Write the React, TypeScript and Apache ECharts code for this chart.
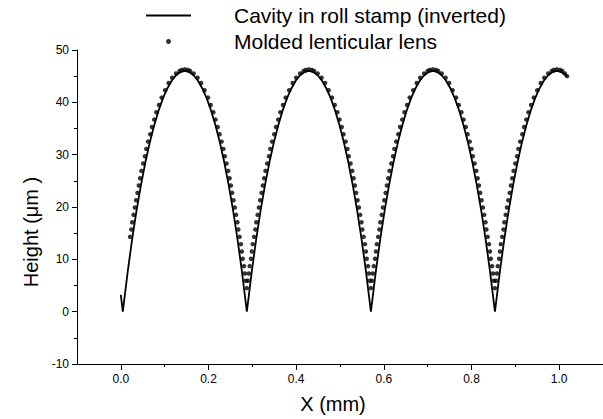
import React, { useEffect, useRef } from "react";
import * as echarts from "echarts";

const FONT = "'Liberation Sans', Arial, sans-serif";

const xMajorTicks = [0, 0.2, 0.4, 0.6, 0.8, 1.0];
const xMinorTicks = [0.1, 0.3, 0.5, 0.7, 0.9];

const seriesNames = ["Cavity in roll stamp (inverted)", "Molded lenticular lens"];

// Cavity profile (solid line)
const cavityX = [
  0.000, 0.0045,
  0.016, 0.026, 0.036, 0.046, 0.056, 0.066, 0.076, 0.086, 0.096, 0.106, 0.116, 0.126, 0.136, 0.146,
  0.156, 0.166, 0.176, 0.186, 0.196, 0.206, 0.216, 0.226, 0.236, 0.246, 0.256, 0.266, 0.276, 0.2875,
  0.299, 0.309, 0.319, 0.329, 0.339, 0.349, 0.359, 0.369, 0.379, 0.389, 0.399, 0.409, 0.419, 0.429,
  0.439, 0.449, 0.459, 0.469, 0.479, 0.489, 0.499, 0.509, 0.519, 0.529, 0.539, 0.549, 0.559, 0.5705,
  0.582, 0.592, 0.602, 0.612, 0.622, 0.632, 0.642, 0.652, 0.662, 0.672, 0.682, 0.692, 0.702, 0.712,
  0.722, 0.732, 0.742, 0.752, 0.762, 0.772, 0.782, 0.792, 0.802, 0.812, 0.822, 0.832, 0.842, 0.8535,
  0.865, 0.875, 0.885, 0.895, 0.905, 0.915, 0.925, 0.935, 0.945, 0.955, 0.965, 0.975, 0.985, 0.995,
  1.005, 1.015, 1.018,
];
const cavityY = [
  3.2, 0,
  7.86, 13.94, 19.39, 24.24, 28.54, 32.31, 35.59, 38.4, 40.75, 42.65, 44.12, 45.17, 45.79, 46.0,
  45.79, 45.17, 44.12, 42.65, 40.75, 38.4, 35.59, 32.31, 28.54, 24.24, 19.39, 13.94, 7.86, 0,
  7.86, 13.94, 19.39, 24.24, 28.54, 32.31, 35.59, 38.4, 40.75, 42.65, 44.12, 45.17, 45.79, 46.0,
  45.79, 45.17, 44.12, 42.65, 40.75, 38.4, 35.59, 32.31, 28.54, 24.24, 19.39, 13.94, 7.86, 0,
  7.86, 13.94, 19.39, 24.24, 28.54, 32.31, 35.59, 38.4, 40.75, 42.65, 44.12, 45.17, 45.79, 46.0,
  45.79, 45.17, 44.12, 42.65, 40.75, 38.4, 35.59, 32.31, 28.54, 24.24, 19.39, 13.94, 7.86, 0,
  7.86, 13.94, 19.39, 24.24, 28.54, 32.31, 35.59, 38.4, 40.75, 42.65, 44.12, 45.17, 45.79, 46.0,
  45.79, 45.17, 44.9,
];

// Molded lens profile (dots)
const lensX = [
  // arch 1 rising
  0.021, 0.024, 0.026, 0.029, 0.032, 0.035, 0.038, 0.041, 0.044, 0.047, 0.051, 0.055, 0.058, 0.062,
  0.067, 0.071, 0.076, 0.081, 0.087, 0.093, 0.101, 0.109, 0.117, 0.126, 0.134, 0.139, 0.146,
  // arch 1 falling
  0.153, 0.158, 0.166, 0.175, 0.183, 0.191, 0.199, 0.205, 0.211, 0.216, 0.221, 0.225, 0.230, 0.234,
  0.237, 0.241, 0.245, 0.248, 0.251, 0.254, 0.257, 0.260, 0.263, 0.266, 0.268, 0.271, 0.274, 0.276,
  0.278, 0.281, 0.283, 0.285, 0.2875,
  // arch 2 rising
  0.290, 0.292, 0.294, 0.297, 0.299, 0.301, 0.304, 0.307, 0.309, 0.312, 0.315, 0.318, 0.321, 0.324,
  0.327, 0.330, 0.334, 0.338, 0.341, 0.345, 0.350, 0.354, 0.359, 0.364, 0.370, 0.376, 0.384, 0.392,
  0.400, 0.409, 0.417, 0.422, 0.429,
  // arch 2 falling
  0.436, 0.441, 0.449, 0.458, 0.466, 0.474, 0.482, 0.488, 0.494, 0.499, 0.504, 0.508, 0.513, 0.517,
  0.520, 0.524, 0.528, 0.531, 0.534, 0.537, 0.540, 0.543, 0.546, 0.549, 0.551, 0.554, 0.557, 0.559,
  0.561, 0.564, 0.566, 0.568, 0.5705,
  // arch 3 rising
  0.573, 0.575, 0.577, 0.580, 0.582, 0.584, 0.587, 0.590, 0.592, 0.595, 0.598, 0.601, 0.604, 0.607,
  0.610, 0.613, 0.617, 0.621, 0.624, 0.628, 0.633, 0.637, 0.642, 0.647, 0.653, 0.659, 0.667, 0.675,
  0.683, 0.692, 0.700, 0.705, 0.712,
  // arch 3 falling
  0.719, 0.724, 0.732, 0.741, 0.749, 0.757, 0.765, 0.771, 0.777, 0.782, 0.787, 0.791, 0.796, 0.800,
  0.803, 0.807, 0.811, 0.814, 0.817, 0.820, 0.823, 0.826, 0.829, 0.832, 0.834, 0.837, 0.840, 0.842,
  0.844, 0.847, 0.849, 0.851, 0.8535,
  // arch 4 rising
  0.856, 0.858, 0.860, 0.863, 0.865, 0.867, 0.870, 0.873, 0.875, 0.878, 0.881, 0.884, 0.887, 0.890,
  0.893, 0.896, 0.900, 0.904, 0.907, 0.911, 0.916, 0.920, 0.925, 0.930, 0.936, 0.942, 0.950, 0.958,
  0.966, 0.975, 0.983, 0.988, 0.995,
  // arch 4 end
  1.002, 1.007, 1.013, 1.018,
];
const lensY = [
  14.3, 15.7, 17.1, 18.5, 19.9, 21.3, 22.7, 24.1, 25.5, 26.9, 28.3, 29.7, 31.1, 32.5,
  33.9, 35.3, 36.7, 38.1, 39.5, 40.9, 42.3, 43.7, 44.7, 45.5, 46.0, 46.2, 46.3,
  46.2, 46.0, 45.5, 44.7, 43.7, 42.3, 40.9, 39.5, 38.1, 36.7, 35.3, 33.9, 32.5, 31.1,
  29.7, 28.3, 26.9, 25.5, 24.1, 22.7, 21.3, 19.9, 18.5, 17.1, 15.7, 14.3, 12.9, 11.5,
  10.1, 8.7, 7.3, 5.9, 4.5,
  5.9, 7.3, 8.7, 10.1, 11.5, 12.9, 14.3, 15.7, 17.1, 18.5, 19.9, 21.3, 22.7, 24.1,
  25.5, 26.9, 28.3, 29.7, 31.1, 32.5, 33.9, 35.3, 36.7, 38.1, 39.5, 40.9, 42.3, 43.7,
  44.7, 45.5, 46.0, 46.2, 46.3,
  46.2, 46.0, 45.5, 44.7, 43.7, 42.3, 40.9, 39.5, 38.1, 36.7, 35.3, 33.9, 32.5, 31.1,
  29.7, 28.3, 26.9, 25.5, 24.1, 22.7, 21.3, 19.9, 18.5, 17.1, 15.7, 14.3, 12.9, 11.5,
  10.1, 8.7, 7.3, 5.9, 4.5,
  5.9, 7.3, 8.7, 10.1, 11.5, 12.9, 14.3, 15.7, 17.1, 18.5, 19.9, 21.3, 22.7, 24.1,
  25.5, 26.9, 28.3, 29.7, 31.1, 32.5, 33.9, 35.3, 36.7, 38.1, 39.5, 40.9, 42.3, 43.7,
  44.7, 45.5, 46.0, 46.2, 46.3,
  46.2, 46.0, 45.5, 44.7, 43.7, 42.3, 40.9, 39.5, 38.1, 36.7, 35.3, 33.9, 32.5, 31.1,
  29.7, 28.3, 26.9, 25.5, 24.1, 22.7, 21.3, 19.9, 18.5, 17.1, 15.7, 14.3, 12.9, 11.5,
  10.1, 8.7, 7.3, 5.9, 4.5,
  5.9, 7.3, 8.7, 10.1, 11.5, 12.9, 14.3, 15.7, 17.1, 18.5, 19.9, 21.3, 22.7, 24.1,
  25.5, 26.9, 28.3, 29.7, 31.1, 32.5, 33.9, 35.3, 36.7, 38.1, 39.5, 40.9, 42.3, 43.7,
  44.7, 45.5, 46.0, 46.2, 46.3,
  46.2, 46.0, 45.5, 45.0,
];

export default function App() {
  const ref = useRef<HTMLDivElement>(null);
  useEffect(() => {
    if (!ref.current) return;
    const chart = echarts.init(ref.current, null, { renderer: "svg" });
    const cavity = cavityX.map((x, i) => [x, cavityY[i]]);
    const lens = lensX.map((x, i) => [x, lensY[i]]);
    chart.setOption({
      animation: false,
      backgroundColor: "#fff",
      textStyle: { fontFamily: FONT },
      legend: {
        orient: "vertical",
        left: 140,
        top: 0,
        itemWidth: 45,
        itemHeight: 5,
        itemGap: 5,
        textStyle: { fontSize: 21, color: "#000", fontFamily: FONT, padding: [0, 0, 0, 38] },
        data: [
          { name: seriesNames[0], itemStyle: { opacity: 0 } },
          { name: seriesNames[1], icon: "circle" },
        ],
      },
      grid: { left: 77, top: 50, right: 0, bottom: 51, containLabel: false },
      xAxis: [
        {
          type: "value",
          min: -0.1,
          max: 1.1,
          position: "bottom",
          name: "X (mm)",
          nameLocation: "middle",
          nameGap: 30,
          nameTextStyle: { fontSize: 20, color: "#000", fontFamily: FONT, padding: [0, 14, 0, 0] },
          axisLine: { show: true, onZero: false, lineStyle: { color: "#000", width: 1 } },
          axisTick: { show: true, length: 6, customValues: xMajorTicks, lineStyle: { color: "#000" } },
          axisLabel: {
            show: true,
            customValues: xMajorTicks,
            margin: 9,
            fontSize: 12,
            color: "#000",
            fontFamily: FONT,
            formatter: (v: number) => v.toFixed(1),
          },
          splitLine: { show: false },
        },
        {
          type: "value",
          min: -0.1,
          max: 1.1,
          position: "bottom",
          axisLine: { show: false, onZero: false },
          axisTick: { show: true, length: 3, customValues: xMinorTicks, lineStyle: { color: "#000" } },
          axisLabel: { show: false },
          splitLine: { show: false },
        },
      ],
      yAxis: {
        type: "value",
        min: -10,
        max: 50,
        interval: 10,
        name: "Height (μm )",
        nameLocation: "middle",
        nameGap: 36,
        nameTextStyle: { fontSize: 20, color: "#000", fontFamily: FONT, padding: [0, 50, 0, 0] },
        axisLine: { show: true, onZero: false, lineStyle: { color: "#000", width: 1 } },
        axisTick: { show: true, length: 5, lineStyle: { color: "#000" } },
        minorTick: { show: true, splitNumber: 2, length: 3, lineStyle: { color: "#000" } },
        axisLabel: { margin: 8, fontSize: 12, color: "#000", fontFamily: FONT },
        splitLine: { show: false },
      },
      series: [
        {
          name: seriesNames[0],
          type: "line",
          xAxisIndex: 0,
          data: cavity,
          showSymbol: false,
          symbol: "none",
          lineStyle: { color: "#000", width: 1.8 },
          itemStyle: { color: "#000" },
          z: 2,
        },
        {
          name: seriesNames[1],
          type: "scatter",
          xAxisIndex: 0,
          data: lens,
          symbol: "circle",
          symbolSize: 4.5,
          itemStyle: { color: "#000" },
          z: 3,
        },
      ],
    });
    return () => chart.dispose();
  }, []);
  return (
    <div
      ref={ref}
      style={{ position: "fixed", left: 0, top: 0, width: 603, height: 419, background: "#fff" }}
    />
  );
}
